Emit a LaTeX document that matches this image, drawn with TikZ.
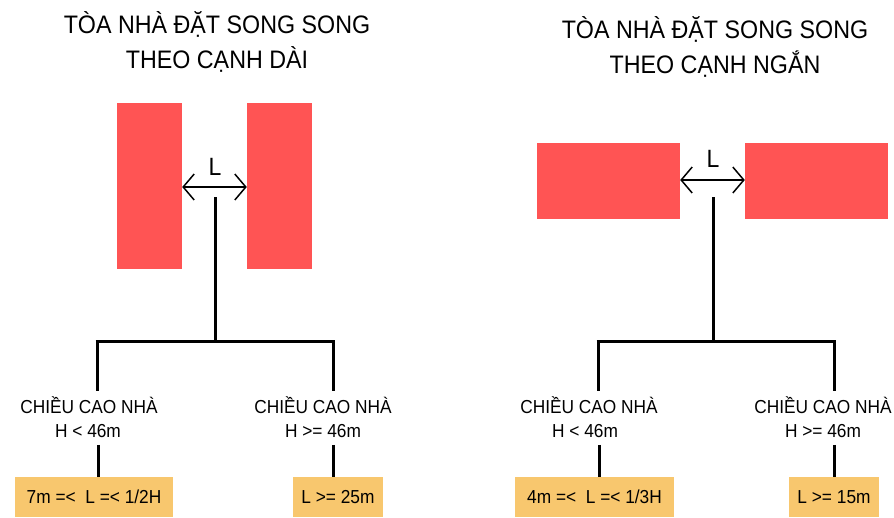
\documentclass[tikz,border=0pt]{standalone}
\usepackage{fontspec}
\setmainfont{Liberation Sans}[FakeStretch=0.92]
\usetikzlibrary{arrows.meta}
\definecolor{bred}{RGB}{255,84,84}
\definecolor{bbox}{RGB}{248,199,110}
\tikzset{
  bldg/.style={fill=bred,draw=none,inner sep=0pt},
  conn/.style={line width=3pt,line cap=butt},
  dimarrow/.style={line width=2.8pt,{Straight Barb[length=11pt,width=26pt,line width=1.5pt]}-{Straight Barb[length=11pt,width=26pt,line width=1.5pt]}},
  ttl/.style={font=\fontsize{25.3}{30}\selectfont,anchor=base,inner sep=0pt},
  lbl/.style={font=\fontsize{18.8}{22}\selectfont,anchor=base,inner sep=0pt},
  res/.style={fill=bbox,draw=none,font=\fontsize{18.8}{22}\selectfont,inner sep=0pt,minimum height=40pt},
  dimlbl/.style={font=\fontsize{25}{30}\selectfont,inner sep=0pt}
}
\begin{document}
\begin{tikzpicture}[x=1pt,y=-1pt]
\useasboundingbox (0,0) rectangle (894,517);
% ---------- Left diagram ----------
\node[ttl] (t1a) at (217,33) {TÒA NHÀ ĐẶT SONG SONG};
\node[ttl] (t1b) at (217,68) {THEO CẠNH DÀI};
\node[bldg,minimum width=65pt,minimum height=166pt] (A1) at (149.5,186) {};
\node[bldg,minimum width=65pt,minimum height=166pt] (A2) at (279.5,186) {};
\draw[dimarrow] (A1.east |- 0,187) -- (A2.west |- 0,187);
\node[dimlbl] (L1) at (215,167) {L};
\coordinate (s1) at (215,197);
\coordinate (m1) at (215,341);
\coordinate (jl1) at (97,341);
\coordinate (jr1) at (333,341);
\draw[conn] (s1) -- (m1);
\draw[conn] ([xshift=-1.5pt]jl1) -- ([xshift=1.5pt]jr1);
\node[lbl] (c1a) at (89,413) {CHIỀU CAO NHÀ};
\node[lbl] (c1b) at (88,437) {H < 46m};
\node[lbl] (c2a) at (323,413) {CHIỀU CAO NHÀ};
\node[lbl] (c2b) at (323,437) {H >= 46m};
\coordinate (e1) at (97,391);
\coordinate (e2) at (333,391);
\draw[conn] (jl1) -- (e1);
\draw[conn] (jr1) -- (e2);
\node[res,minimum width=158pt] (r1) at (94,497) {7m =<\ \ L =< 1/2H};
\node[res,minimum width=90pt] (r2) at (338,497) {L >= 25m};
\draw[conn] (r1.north -| 98,0) ++(0,-32) -- (r1.north -| 98,0);
\draw[conn] (r2.north -| 333,0) ++(0,-32) -- (r2.north -| 333,0);
% ---------- Right diagram ----------
\node[ttl] (t2a) at (715,38) {TÒA NHÀ ĐẶT SONG SONG};
\node[ttl] (t2b) at (715,73) {THEO CẠNH NGẮN};
\node[bldg,minimum width=143pt,minimum height=76pt] (B1) at (608.5,180.5) {};
\node[bldg,minimum width=143pt,minimum height=76pt] (B2) at (816.5,180.5) {};
\draw[dimarrow] (B1.east |- 0,180) -- (B2.west |- 0,180);
\node[dimlbl] (L2) at (713,159) {L};
\coordinate (s2) at (713,197);
\coordinate (m2) at (713,341);
\coordinate (jl2) at (598,341);
\coordinate (jr2) at (834,341);
\draw[conn] (s2) -- (m2);
\draw[conn] ([xshift=-1.5pt]jl2) -- ([xshift=1.5pt]jr2);
\node[lbl] (c3a) at (589,413) {CHIỀU CAO NHÀ};
\node[lbl] (c3b) at (585,437) {H < 46m};
\node[lbl] (c4a) at (823,413) {CHIỀU CAO NHÀ};
\node[lbl] (c4b) at (823,437) {H >= 46m};
\coordinate (e3) at (598,391);
\coordinate (e4) at (834,391);
\draw[conn] (jl2) -- (e3);
\draw[conn] (jr2) -- (e4);
\node[res,minimum width=159pt] (r3) at (594.5,497) {4m =<\ \ L =< 1/3H};
\node[res,minimum width=90pt] (r4) at (834,497) {L >= 15m};
\draw[conn] (r3.north -| 599,0) ++(0,-32) -- (r3.north -| 599,0);
\draw[conn] (r4.north -| 834,0) ++(0,-32) -- (r4.north -| 834,0);
\end{tikzpicture}
\end{document}
